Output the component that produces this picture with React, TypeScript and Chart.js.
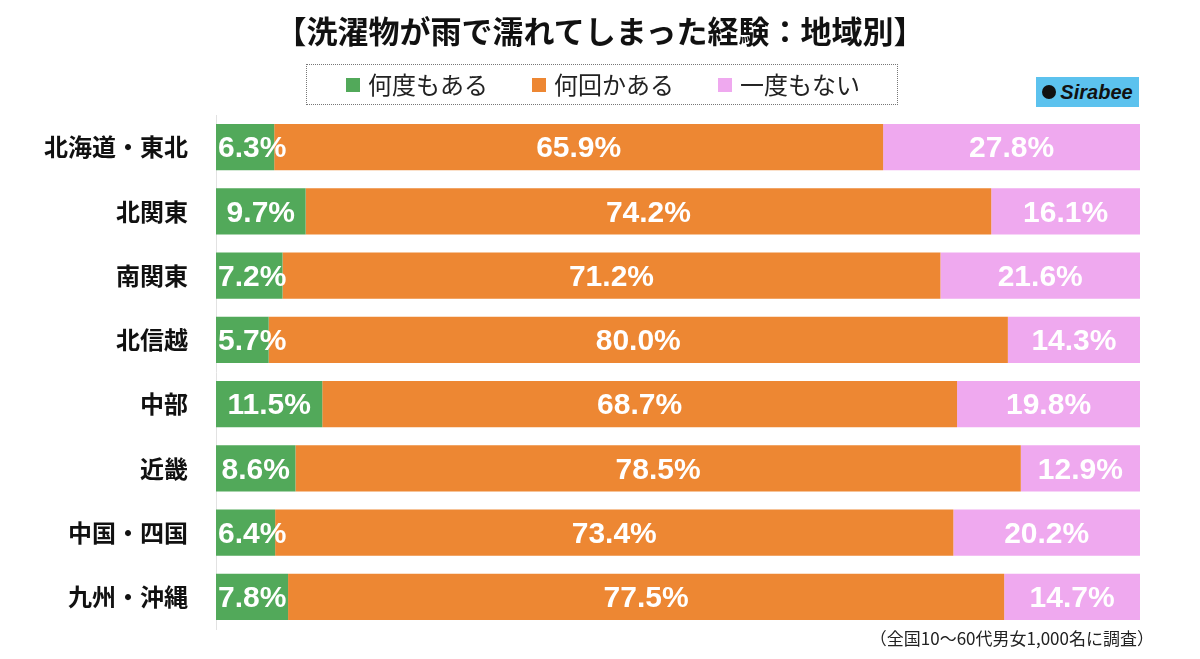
import React, { useEffect, useRef } from "react";
import { Chart, registerables } from "chart.js";

Chart.register(...registerables);

const categories = ["北海道・東北", "北関東", "南関東", "北信越", "中部", "近畿", "中国・四国", "九州・沖縄"];
const seriesNames = ["何度もある", "何回かある", "一度もない"];
const often = [6.3, 9.7, 7.2, 5.7, 11.5, 8.6, 6.4, 7.8];
const sometimes = [65.9, 74.2, 71.2, 80.0, 68.7, 78.5, 73.4, 77.5];
const never = [27.8, 16.1, 21.6, 14.3, 19.8, 12.9, 20.2, 14.7];
const colors = ["#52a95a", "#ed8733", "#efa9ef"];

const FONT = '"Noto Sans CJK JP", "Noto Sans", sans-serif';
const NUMFONT = '"Liberation Sans", Arial, sans-serif';

const labelPlugin = {
  id: "segLabels",
  afterDatasetsDraw(chart: any) {
    const ctx = chart.ctx;
    ctx.save();
    ctx.font = `bold 30px ${NUMFONT}`;
    ctx.fillStyle = "#ffffff";
    ctx.textBaseline = "middle";
    ctx.textAlign = "left";
    chart.data.datasets.forEach((ds: any, di: number) => {
      const meta = chart.getDatasetMeta(di);
      meta.data.forEach((el: any, i: number) => {
        const v = ds.data[i];
        const txt = v.toFixed(1) + "%";
        const w = ctx.measureText(txt).width;
        const left = Math.min(el.base, el.x);
        const right = Math.max(el.base, el.x);
        let x = (left + right) / 2 - w / 2;
        if (x < left + 2) x = left + 2;
        ctx.fillText(txt, x, el.y + 2);
      });
    });
    ctx.restore();
  },
};

function BarChart() {
  const ref = useRef<HTMLCanvasElement>(null);
  useEffect(() => {
    const chart = new Chart(ref.current as HTMLCanvasElement, {
      type: "bar",
      data: {
        labels: categories,
        datasets: [often, sometimes, never].map((d, i) => ({
          label: seriesNames[i],
          data: d,
          backgroundColor: colors[i],
          borderWidth: 0,
          barPercentage: 0.72,
          categoryPercentage: 1,
        })),
      },
      options: {
        indexAxis: "y",
        animation: false,
        responsive: false,
        maintainAspectRatio: false,
        layout: { padding: { left: 0, right: 60, top: 115, bottom: 30 } },
        plugins: { legend: { display: false }, tooltip: { enabled: false }, title: { display: false } },
        scales: {
          x: { stacked: true, min: 0, max: 100, display: false },
          y: {
            stacked: true,
            grid: { display: false },
            border: { display: true, color: "#e2e2e2", width: 1 },
            ticks: { color: "#111", padding: 20, font: { family: FONT, size: 24, weight: "bold" } },
            afterFit: (s: any) => {
              s.width = 216;
              s.paddingTop = 0;
              s.paddingBottom = 0;
            },
          },
        },
      } as any,
      plugins: [labelPlugin],
    });
    return () => chart.destroy();
  }, []);
  return <canvas ref={ref} width={1200} height={659} style={{ position: "absolute", left: 0, top: 0 }} />;
}

export default function App() {
  const legendX = [346, 532, 718];
  return (
    <div style={{ position: "fixed", left: 0, top: 0, width: 1200, height: 659, background: "#fff", fontFamily: FONT, overflow: "hidden" }}>
      <BarChart />
      <div style={{ position: "absolute", left: 0, top: 9, width: 1200, textAlign: "center", fontSize: 31, fontWeight: "bold", color: "#111", lineHeight: "42px" }}>
        【洗濯物が雨で濡れてしまった経験：地域別】
      </div>
      <div
        style={{
          position: "absolute",
          left: 306,
          top: 64,
          width: 592,
          height: 41,
          boxSizing: "border-box",
          border: "1px dotted #777",
        }}
      />
      {legendX.map((x, i) => (
        <React.Fragment key={i}>
          <div style={{ position: "absolute", left: x, top: 78, width: 14, height: 14, background: colors[i] }} />
          <div style={{ position: "absolute", left: x + 22, top: 68, fontSize: 24, lineHeight: "32px", color: "#222" }}>{seriesNames[i]}</div>
        </React.Fragment>
      ))}
      <div
        style={{
          position: "absolute",
          left: 1036,
          top: 77,
          width: 103,
          height: 30,
          background: "#5cc2ee",
          display: "flex",
          alignItems: "center",
          justifyContent: "center",
          fontFamily: '"Liberation Sans", sans-serif',
          fontWeight: "bold",
          fontStyle: "italic",
          fontSize: 20,
          color: "#111",
        }}
      >
        <span style={{ display: "inline-block", width: 14, height: 14, borderRadius: 7, background: "#111", marginRight: 4 }} />
        Sirabee
      </div>
      <div style={{ position: "absolute", right: 46, top: 625, fontSize: 17, color: "#222", lineHeight: "26px" }}>
        （全国10〜60代男女1,000名に調査）
      </div>
    </div>
  );
}
